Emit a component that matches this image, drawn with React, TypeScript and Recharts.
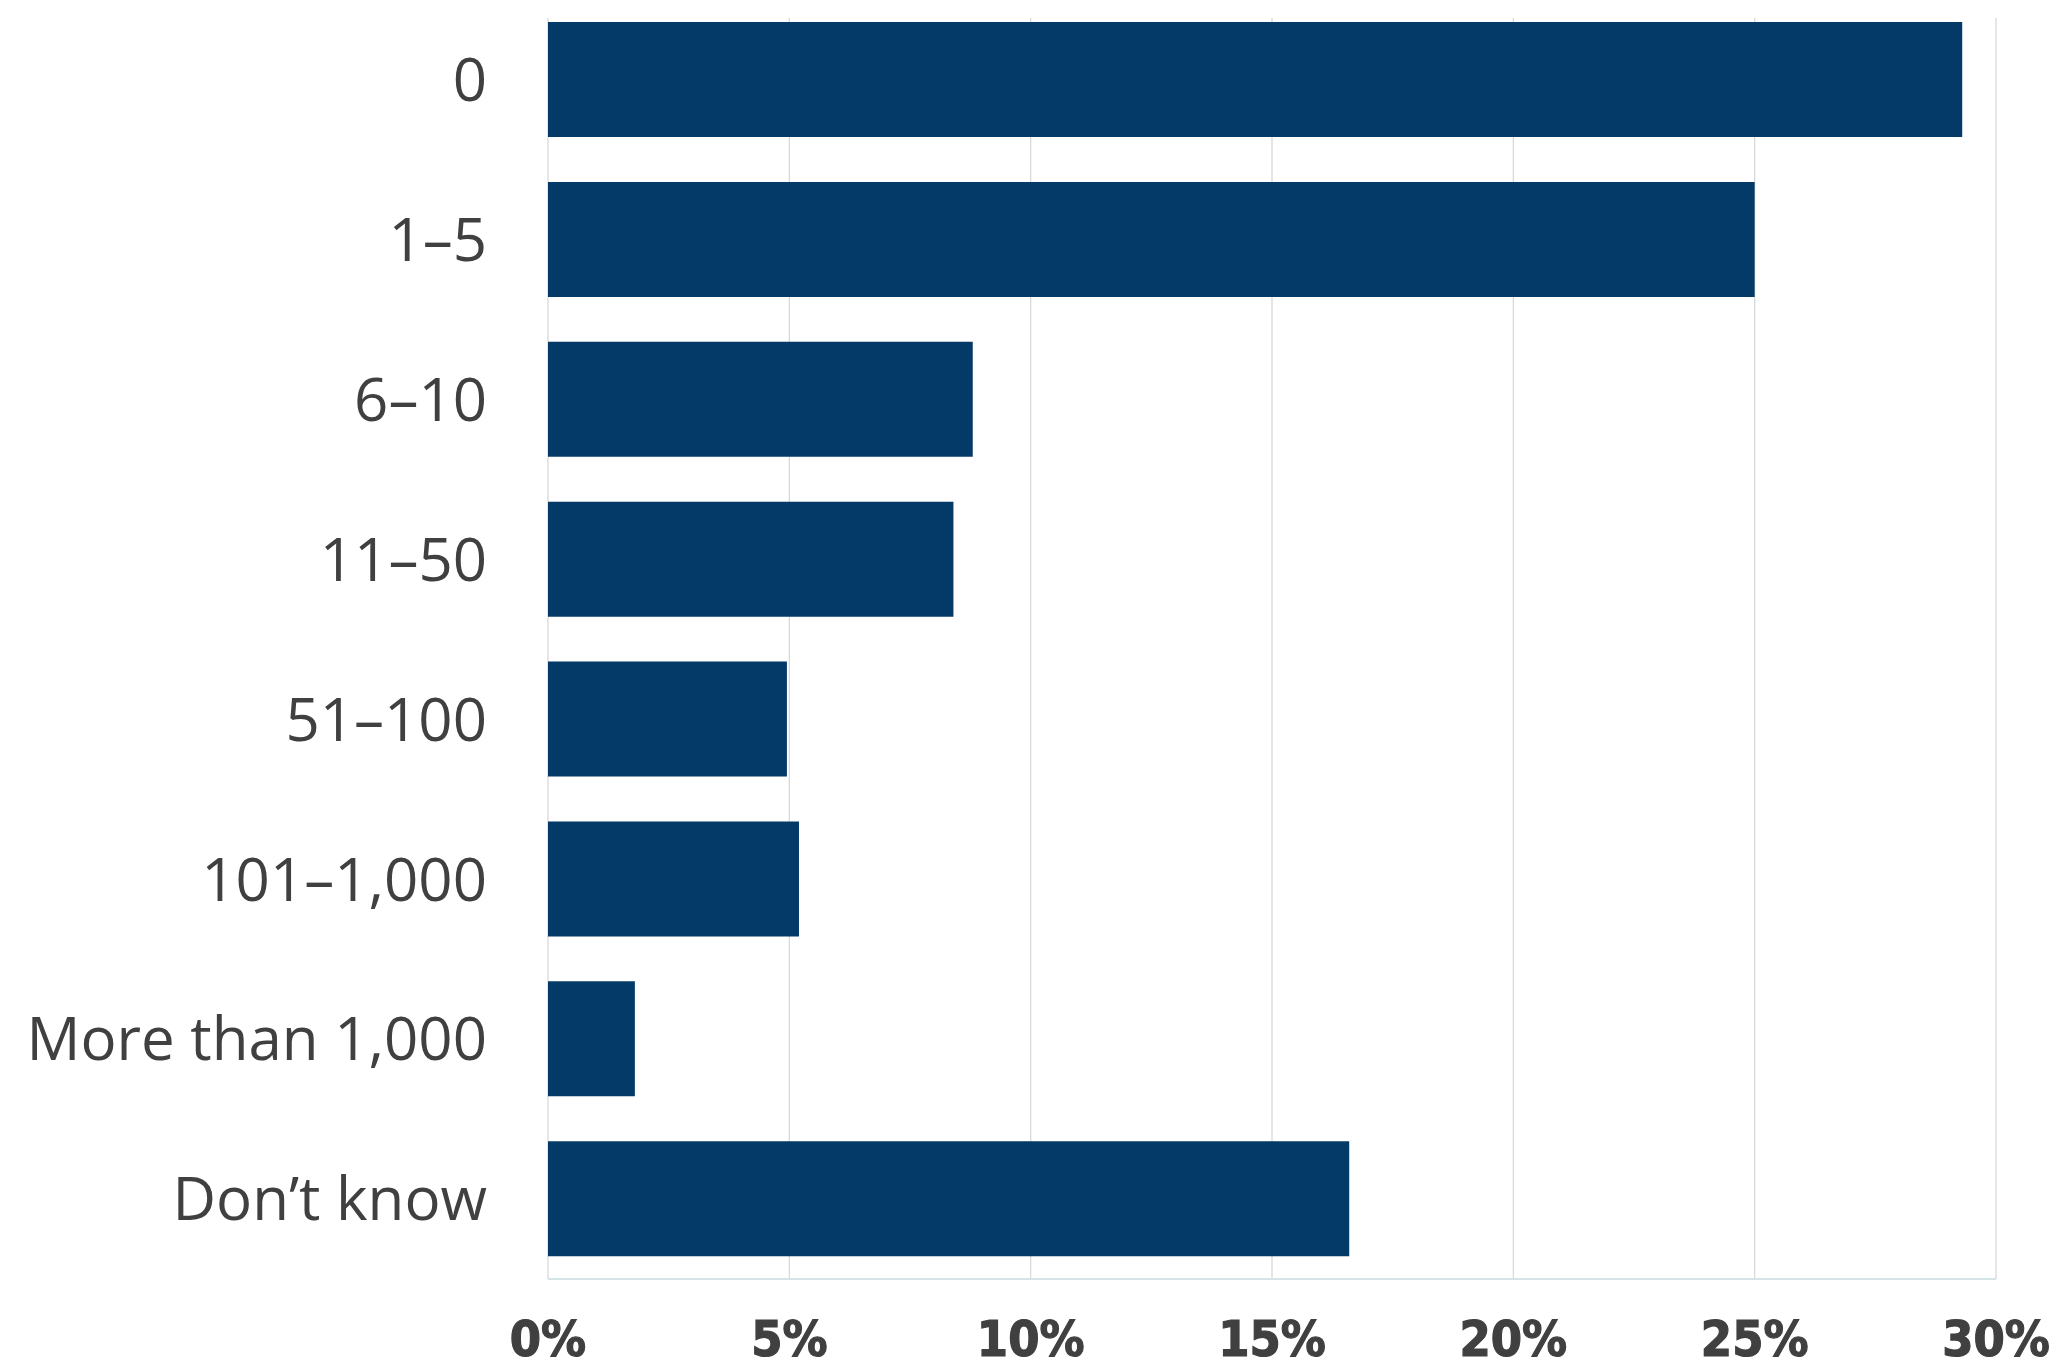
import { BarChart, Bar, XAxis, YAxis, CartesianGrid } from "recharts";

const CATEGORIES = [
  "0",
  "1–5",
  "6–10",
  "11–50",
  "51–100",
  "101–1,000",
  "More than 1,000",
  "Don’t know",
];
const SHARES = [29.3, 25.0, 8.8, 8.4, 4.95, 5.2, 1.8, 16.6];
const X_TICKS = [0, 5, 10, 15, 20, 25, 30];

const BAR_COLOR = "#043a67";
const TEXT_COLOR = "#404040";

const data = CATEGORIES.map((name, i) => ({ name, share: SHARES[i] }));

// gridlines in the original stop a little short of the top edge
function GridLine(props: any) {
  const { x1, x2, y1, y2, key } = props;
  return (
    <line
      key={key ?? `g-${x1}`}
      x1={x1}
      x2={x2}
      y1={y1 + 18}
      y2={y2}
      stroke="#d9d9d9"
      strokeWidth={1.3}
    />
  );
}

export default function App() {
  return (
    <div style={{ position: "absolute", left: 0, top: 0, background: "#fff" }}>
      <BarChart
        width={2065}
        height={1366}
        data={data}
        layout="vertical"
        margin={{ top: 0, right: 69, bottom: 0, left: 0 }}
      >
        <CartesianGrid horizontal={false} vertical={GridLine} />
        <XAxis
          type="number"
          domain={[0, 30]}
          ticks={X_TICKS}
          tickFormatter={(v) => `${v}%`}
          tick={{
            fontSize: 50,
            fontWeight: "bold",
            fontFamily: "'DejaVu Sans Condensed', 'DejaVu Sans', sans-serif",
            fill: TEXT_COLOR,
            stroke: TEXT_COLOR,
            strokeWidth: 1.2,
          }}
          tickLine={false}
          tickSize={0}
          tickMargin={41}
          axisLine={{ stroke: "#d5e4e6", strokeWidth: 2 }}
          height={87}
        />
        <YAxis
          type="category"
          dataKey="name"
          width={548}
          tick={{
            fontSize: 60,
            fontFamily: "'Open Sans', sans-serif",
            fill: TEXT_COLOR,
          }}
          tickLine={false}
          tickSize={0}
          tickMargin={61}
          axisLine={false}
          interval={0}
        />
        <Bar dataKey="share" fill={BAR_COLOR} barSize={115} isAnimationActive={false} />
      </BarChart>
    </div>
  );
}
